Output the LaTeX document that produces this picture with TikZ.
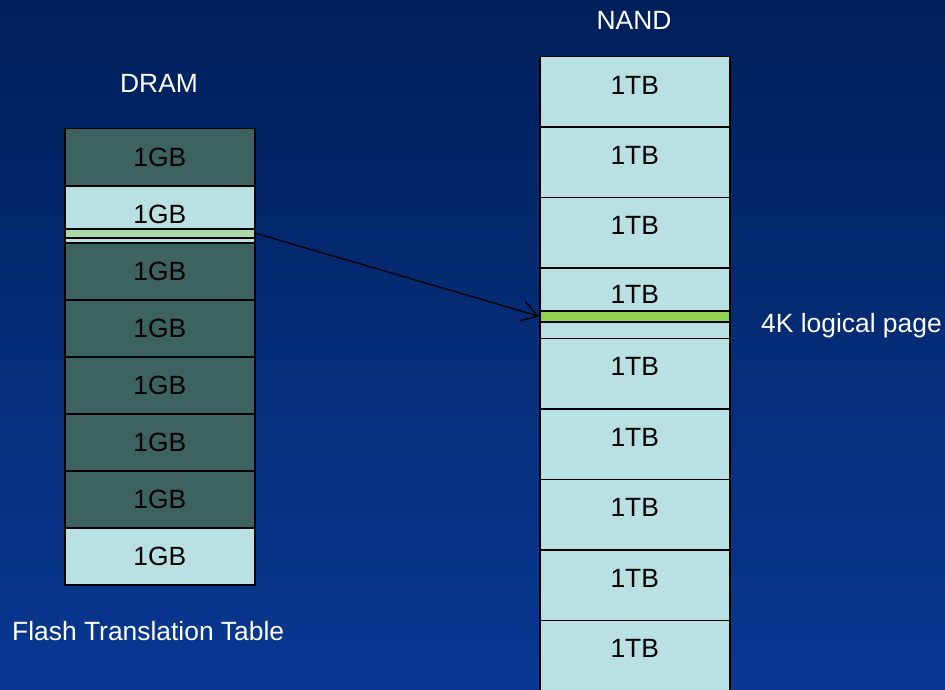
\documentclass[tikz,border=0pt]{standalone}
\usepackage{fontspec}
\setmainfont{Liberation Sans}
\usetikzlibrary{arrows.meta}
\definecolor{bgtop}{RGB}{0,32,90}
\definecolor{bgbot}{RGB}{10,56,146}
\definecolor{darkcell}{RGB}{61,98,98}
\definecolor{lightcell}{RGB}{185,224,227}
\definecolor{drampage}{RGB}{168,216,168}
\definecolor{nandpage}{RGB}{146,208,80}

\begin{document}
\begin{tikzpicture}[x=1pt,y=-1pt,font=\fontsize{26.4}{31}\selectfont,
  cell/.style={draw=black,line width=1.5pt,anchor=north west,minimum width=190pt,inner sep=0pt,text=black},
  dramcell/.style={cell,minimum height=57pt,fill=darkcell},
  nandcell/.style={cell,minimum height=70.45pt,fill=lightcell,text depth=14pt},
  title/.style={text=white,inner sep=0pt}]
  \useasboundingbox (0,0) rectangle (945,690);
  \shade[top color=bgtop,bottom color=bgbot] (0,0) rectangle (945,690);
  % DRAM column
  \node[title] (dram) at (159,83) {DRAM};
  \node[dramcell] (d1) at (64,128) {1GB};
  \node[dramcell,fill=lightcell] (d2) at (64,185) {1GB};
  \node[cell,minimum height=9pt,fill=drampage] (dpage) at (64,228) {};
  \node[dramcell] (d3) at (64,242) {1GB};
  \node[dramcell] (d4) at (64,299) {1GB};
  \node[dramcell] (d5) at (64,356) {1GB};
  \node[dramcell] (d6) at (64,413) {1GB};
  \node[dramcell] (d7) at (64,470) {1GB};
  \node[dramcell,fill=lightcell] (d8) at (64,527) {1GB};
  \node[title,anchor=base west] (ftt) at (12,640) {Flash Translation Table};
  % NAND column
  \node[title] (nand) at (634,20) {NAND};
  \node[nandcell] (n1) at (539,56) {1TB};
  \node[nandcell] (n2) at (539,126.45) {1TB};
  \node[nandcell] (n3) at (539,196.9) {1TB};
  \node[nandcell,minimum height=53pt,text depth=0pt] (n4) at (539,267.35) {1TB};
  \node[cell,minimum height=17.45pt,fill=lightcell] (n4b) at (539,320.35) {};
  \node[cell,minimum height=11pt,fill=nandpage] (npage) at (539,310) {};
  \node[nandcell] (n5) at (539,337.8) {1TB};
  \node[nandcell] (n6) at (539,408.25) {1TB};
  \node[nandcell] (n7) at (539,478.7) {1TB};
  \node[nandcell] (n8) at (539,549.15) {1TB};
  \node[nandcell] (n9) at (539,619.6) {1TB};
  \node[title,anchor=base west] (lpage) at (761,332) {4K logical page};
  % mapping
  \draw[-{Straight Barb[length=16pt,width=20pt]},line width=1.3pt] (dpage.east) -- (npage.west);
\end{tikzpicture}
\end{document}
